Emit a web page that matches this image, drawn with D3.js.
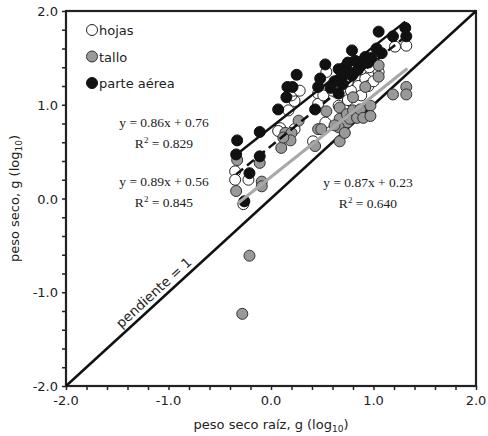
<!DOCTYPE html>
<html><head><meta charset="utf-8">
<script src="https://cdn.jsdelivr.net/npm/d3@7"></script>
<style>body{margin:0;background:#fff}svg{display:block}</style>
</head><body>
<script>
// ---- data ----
const hojas = [[-0.35,0.29],[-0.35,0.20],[-0.22,0.20],[-0.27,-0.06],[0.09,0.75],[0.07,0.72],[0.17,0.94],[0.23,1.04],[0.20,1.10],[0.22,1.15],[0.28,1.15],[0.41,0.61],[0.23,0.74],[0.46,1.12],[0.46,1.01],[0.51,1.10],[0.54,1.35],[0.53,0.81],[0.64,1.13],[0.66,0.99],[0.71,0.95],[0.82,1.29],[0.82,1.13],[0.85,1.20],[0.92,1.28],[0.95,1.20],[0.75,1.05],[0.78,1.15],[0.88,1.10],[1.00,1.25],[1.05,1.35],[1.21,1.62],[1.32,1.63],[0.70,1.30],[0.88,1.38],[0.96,1.40],[0.60,1.15],[0.75,1.25]];
const tallo = [[-0.34,0.08],[-0.33,0.41],[-0.21,-0.61],[-0.28,-1.23],[-0.11,0.38],[-0.09,0.18],[-0.09,0.13],[0.10,0.54],[0.14,0.70],[0.20,0.70],[0.19,0.62],[0.12,0.65],[0.27,0.83],[0.43,0.56],[0.46,0.74],[0.49,0.74],[0.54,0.93],[0.67,0.61],[0.67,0.97],[0.67,0.85],[0.74,0.90],[0.74,0.81],[0.77,0.85],[0.80,1.08],[0.80,0.94],[0.84,0.86],[0.87,0.95],[0.90,0.86],[0.92,1.19],[0.97,0.99],[0.97,0.88],[0.66,0.76],[1.05,1.42],[1.05,1.30],[1.19,1.11],[1.32,1.19],[1.32,1.11],[0.62,0.78],[0.72,0.70]];
const parteAerea = [[-0.34,0.47],[-0.33,0.62],[-0.26,-0.03],[-0.21,0.27],[-0.11,0.45],[-0.11,0.71],[0.07,0.95],[0.15,1.08],[0.16,1.19],[0.21,1.19],[0.25,1.32],[0.43,0.95],[0.48,1.28],[0.46,1.19],[0.53,1.43],[0.66,1.12],[0.69,1.28],[0.66,1.38],[0.79,1.31],[0.79,1.58],[0.82,1.47],[0.92,1.51],[0.72,1.40],[0.75,1.45],[0.85,1.38],[0.88,1.42],[0.95,1.45],[0.70,1.22],[0.76,1.35],[1.03,1.60],[1.05,1.78],[1.19,1.73],[1.31,1.82],[1.32,1.73],[0.62,1.25],[0.98,1.50],[1.08,1.55],[0.58,1.18]];
const seriesNames = ["hojas","tallo","parte aérea"];
const slopes = [0.89, 0.87, 0.86];
const intercepts = [0.56, 0.23, 0.76];
const r2 = ["0.845","0.640","0.829"];
const fitRanges = [[-0.34,1.31],[-0.32,1.33],[-0.34,1.31]];
const majorTicks = [-2,-1,0,1,2];
const tickLabels = ["-2.0","-1.0","0.0","1.0","2.0"];
const minorTicks = d3.range(-2,2.0001,0.2);

// ---- layout ----
const W=488,H=436;
const L=66,R=476,T=11,B=386;
const svg=d3.select("body").append("svg").attr("width",W).attr("height",H);
const x=d3.scaleLinear().domain([-2,2]).range([L,R]);
const y=d3.scaleLinear().domain([-2,2]).range([B,T]);
const sans="'DejaVu Sans', Verdana, sans-serif";
const serif="'Liberation Serif','Times New Roman',serif";

// axes (minor ticks)
const xAxis=d3.axisBottom(x).tickValues(minorTicks).tickSize(4).tickFormat("");
const yAxis=d3.axisLeft(y).tickValues(minorTicks).tickSize(4).tickFormat("");
const gx=svg.append("g").attr("transform",`translate(0,${B})`).call(xAxis);
const gy=svg.append("g").attr("transform",`translate(${L},0)`).call(yAxis);
[gx,gy].forEach(g=>{g.select(".domain").remove();g.selectAll("line").attr("stroke","#222").attr("stroke-width",1.5);});
// tick labels
svg.append("g").selectAll("text").data(majorTicks).join("text")
  .attr("x",d=>x(d)).attr("y",B+19).attr("text-anchor","middle")
  .attr("font-family",sans).attr("font-size",13).attr("fill","#222")
  .text((d,i)=>tickLabels[i]);
svg.append("g").selectAll("text").data(majorTicks).join("text")
  .attr("x",L-8).attr("y",d=>y(d)+5).attr("text-anchor","end")
  .attr("font-family",sans).attr("font-size",13).attr("fill","#222")
  .text((d,i)=>tickLabels[i]);
// frame
svg.append("rect").attr("x",L).attr("y",T).attr("width",R-L).attr("height",B-T)
  .attr("fill","none").attr("stroke","#222").attr("stroke-width",2.2);

// axis titles
const xt=svg.append("text").attr("x",(L+R)/2).attr("y",429).attr("text-anchor","middle")
  .attr("font-family",sans).attr("font-size",13).attr("fill","#222");
xt.append("tspan").text("peso seco raíz, g (log");
xt.append("tspan").attr("font-size",9).attr("dy",3).text("10");
xt.append("tspan").attr("dy",-3).text(")");
const yt=svg.append("text").attr("transform",`translate(19,${(T+B)/2}) rotate(-90)`).attr("text-anchor","middle")
  .attr("font-family",sans).attr("font-size",13).attr("fill","#222");
yt.append("tspan").text("peso seco, g (log");
yt.append("tspan").attr("font-size",9).attr("dy",3).text("10");
yt.append("tspan").attr("dy",-3).text(")");

// 1:1 line
svg.append("line").attr("x1",x(-2)).attr("y1",y(-2)).attr("x2",x(2)).attr("y2",y(2))
  .attr("stroke","#111").attr("stroke-width",2.5);
const ang=Math.atan2(y(2)-y(-2),x(2)-x(-2))*180/Math.PI;
const px=x(-1.08), py=y(-1.08);
svg.append("text").attr("transform",`translate(${px},${py}) rotate(${ang}) translate(0,-5)`)
  .attr("text-anchor","middle").attr("font-family",sans).attr("font-size",13.5).attr("fill","#222")
  .text("pendiente = 1");

// points
const styles=[{fill:"#fff",stroke:"#222"},{fill:"#999",stroke:"#333"},{fill:"#111",stroke:"#111"}];
[hojas,tallo,parteAerea].forEach((data,i)=>{
  svg.append("g").selectAll("circle").data(data).join("circle")
    .attr("cx",d=>x(d[0])).attr("cy",d=>y(d[1])).attr("r",5.5)
    .attr("fill",styles[i].fill).attr("stroke",styles[i].stroke).attr("stroke-width",1);
});

// regression lines
const lineStyles=[{c:"#111",w:2.5,dash:"9,5"},{c:"#a8a8a8",w:3,dash:null},{c:"#111",w:2.5,dash:null}];
slopes.forEach((m,i)=>{
  const [a,b]=fitRanges[i];
  svg.append("line").attr("x1",x(a)).attr("y1",y(m*a+intercepts[i]))
    .attr("x2",x(b)).attr("y2",y(m*b+intercepts[i]))
    .attr("stroke",lineStyles[i].c).attr("stroke-width",lineStyles[i].w)
    .attr("stroke-dasharray",lineStyles[i].dash);
});

// equations
const eqPos=[[164,182],[368,183],[164,123]];
slopes.forEach((m,i)=>{
  svg.append("text").attr("x",eqPos[i][0]).attr("y",eqPos[i][1]+4).attr("text-anchor","middle")
    .attr("font-family",serif).attr("font-size",13.5).attr("fill","#222")
    .text(`y = ${m.toFixed(2)}x + ${intercepts[i].toFixed(2)}`);
  const t=svg.append("text").attr("x",eqPos[i][0]).attr("y",eqPos[i][1]+25).attr("text-anchor","middle")
    .attr("font-family",serif).attr("font-size",13.5).attr("fill","#222");
  t.append("tspan").text("R");
  t.append("tspan").attr("font-size",9).attr("dy",-5).text("2");
  t.append("tspan").attr("dy",5).text(` = ${r2[i]}`);
});

// legend
const lg=svg.append("g");
seriesNames.forEach((n,i)=>{
  const cy=30+i*26.5;
  lg.append("circle").attr("cx",92).attr("cy",cy).attr("r",5.5)
    .attr("fill",styles[i].fill).attr("stroke",styles[i].stroke).attr("stroke-width",1);
  lg.append("text").attr("x",99).attr("y",cy+5).attr("font-family",sans).attr("font-size",13)
    .attr("fill","#222").text(n);
});
</script>
</body></html>
